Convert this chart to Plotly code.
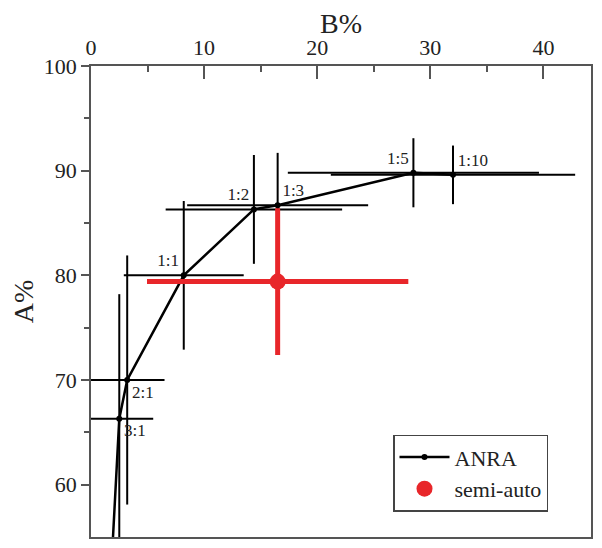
import plotly.graph_objects as go

# ANRA ratios; first point lies below the visible range
ratio_labels = ["", "3:1", "2:1", "1:1", "1:2", "1:3", "1:5", "1:10"]
b_pct = [1.7, 2.5, 3.2, 8.2, 14.4, 16.5, 28.5, 32.0]
a_pct = [50.0, 66.3, 70.0, 80.0, 86.3, 86.7, 89.8, 89.6]
b_err = [0, 3.0, 3.3, 5.3, 7.8, 8.0, 11.1, 10.8]
a_err = [0, 11.9, 11.9, 7.1, 5.2, 5.0, 3.3, 2.8]
label_pos = ["top left", "bottom right", "bottom right", "top left",
             "top left", "top right", "top left", "top right"]

# semi-auto result
semi_b = [16.5]
semi_a = [79.4]
semi_b_err = [11.55]
semi_a_err = [7.0]

serif = "Liberation Serif"

fig = go.Figure()

fig.add_trace(go.Scatter(
    x=b_pct, y=a_pct, name="ANRA",
    mode="lines+markers+text",
    text=ratio_labels, textposition=label_pos,
    textfont=dict(family=serif, size=17, color="#222"),
    line=dict(color="black", width=2.5),
    marker=dict(color="black", size=6),
    error_x=dict(type="data", array=b_err, color="black", thickness=2, width=0),
    error_y=dict(type="data", array=a_err, color="black", thickness=2, width=0),
))

fig.add_trace(go.Scatter(
    x=semi_b, y=semi_a, name="semi-auto",
    mode="markers",
    marker=dict(color="#e8262a", size=16),
    error_x=dict(type="data", array=semi_b_err, color="#e8262a", thickness=5, width=0),
    error_y=dict(type="data", array=semi_a_err, color="#e8262a", thickness=5, width=0),
))

# page body adds 8px, so the figure is a bit smaller than the window
fig.update_layout(
    width=594, height=540,
    margin=dict(l=83, r=11, t=58, b=11),
    paper_bgcolor="white", plot_bgcolor="white",
    font=dict(family=serif, size=22, color="#222"),
    showlegend=True,
    legend=dict(
        x=0.914, y=0.217, xanchor="right", yanchor="top",
        bordercolor="#444", borderwidth=1.5, bgcolor="white",
        font=dict(family=serif, size=22),
        tracegroupgap=0, itemwidth=50,
    ),
)

fig.update_xaxes(
    side="top", range=[0, 44.2], automargin=False,
    tickvals=[0, 10, 20, 30, 40], ticks="inside", ticklen=13, tickwidth=1.5,
    tickcolor="#555",
    minor=dict(tickvals=[5, 15, 25, 35], ticks="inside", ticklen=6, tickwidth=1.5, tickcolor="#555"),
    showline=True, linecolor="#555", linewidth=1.5, mirror=True,
    showgrid=False, zeroline=False,
    title=dict(text="B%", font=dict(family=serif, size=28), standoff=2),
    tickfont=dict(family=serif, size=22),
)

fig.update_yaxes(
    range=[55, 100], automargin=False,
    tickvals=[60, 70, 80, 90, 100], ticks="outside", ticklen=8, tickwidth=1.5,
    tickcolor="#555",
    minor=dict(tickvals=[65, 75, 85, 95], ticks="outside", ticklen=5, tickwidth=1.5, tickcolor="#555"),
    showline=True, linecolor="#555", linewidth=1.5, mirror=True,
    showgrid=False, zeroline=False,
    title=dict(text="A%", font=dict(family=serif, size=28), standoff=6),
    tickfont=dict(family=serif, size=22),
)

fig.write_html("out.html")
